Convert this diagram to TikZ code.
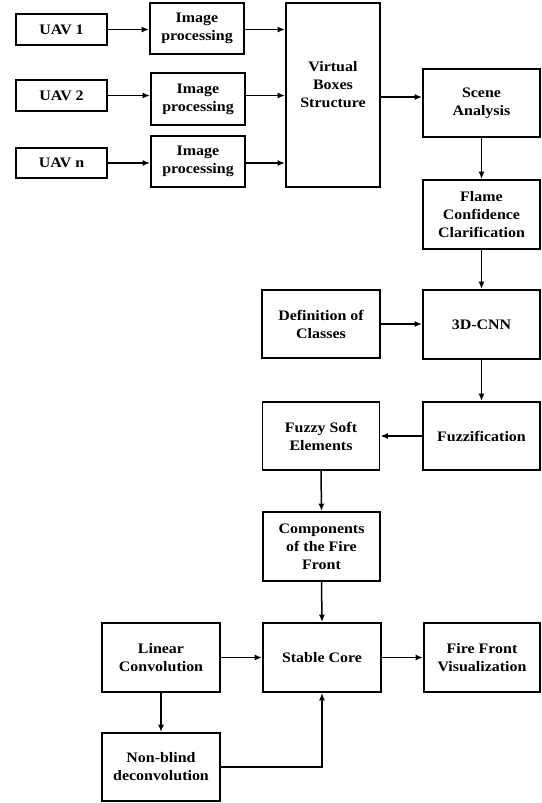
\documentclass[tikz,border=0pt]{standalone}
\usepackage{fontspec}
\newfontfamily\lbl[FakeStretch=1.1]{Liberation Serif}
\usetikzlibrary{arrows.meta}
\begin{document}
\begin{tikzpicture}[x=1pt,y=-1pt,
  box/.style={draw=black, line width=1.8pt, rectangle, inner sep=0pt, align=center,
    font=\lbl\bfseries\fontsize{14.5}{18}\selectfont},
  txt/.style={inner sep=0pt, align=center, font=\lbl\bfseries\fontsize{14.5}{18}\selectfont},
  arr/.style={line width=1.5pt, -{Latex[length=7.5pt,width=6pt]}}]
\useasboundingbox (0,0) rectangle (541,803);
\node[box, minimum width=91pt, minimum height=31pt] (uav1) at (61.5,29.5) {UAV 1};
\node[box, minimum width=91pt, minimum height=31pt] (uav2) at (61.5,95.5) {UAV 2};
\node[box, minimum width=91pt, minimum height=30pt] (uavn) at (61.5,163) {UAV n};
\node[box, minimum width=94pt, minimum height=51pt] (ip1) at (197,28.5) {Image\\processing};
\node[box, minimum width=94pt, minimum height=52pt] (ip2) at (198,99) {Image\\processing};
\node[box, minimum width=94pt, minimum height=51pt] (ip3) at (198,161.5) {Image\\processing};
\node[box, minimum width=94pt, minimum height=184pt] (vbs) at (333,95) {};
\node[txt] (vbstxt) at (333,85) {Virtual\\Boxes\\Structure};
\node[box, minimum width=117pt, minimum height=68pt] (scene) at (481.5,103) {Scene\\Analysis};
\node[box, minimum width=117pt, minimum height=69pt] (flame) at (481.5,214.5) {Flame\\Confidence\\Clarification};
\node[box, minimum width=118pt, minimum height=68pt] (def) at (321,324) {Definition of\\Classes};
\node[box, minimum width=117pt, minimum height=69pt] (cnn) at (481.5,324.5) {3D-CNN};
\node[box, minimum width=117pt, minimum height=68pt] (fuzz) at (481.5,436) {Fuzzification};
\node[box, minimum width=117pt, minimum height=68pt] (fse) at (321,436) {Fuzzy Soft\\Elements};
\node[box, minimum width=117pt, minimum height=69pt] (comp) at (321.5,546.5) {Components\\of the Fire\\Front};
\node[box, minimum width=118pt, minimum height=69pt] (lc) at (161,657.5) {Linear\\Convolution};
\node[box, minimum width=118pt, minimum height=69pt] (sc) at (322,657.5) {Stable Core};
\node[box, minimum width=116pt, minimum height=69pt] (ffv) at (482,657.5) {Fire Front\\Visualization};
\node[box, minimum width=118pt, minimum height=68pt] (nb) at (161,767) {Non-blind\\deconvolution};
\draw[arr] (uav1.east) -- (uav1.east -| ip1.west);
\draw[arr] (uav2.east) -- (uav2.east -| ip2.west);
\draw[arr] (uavn.east) -- (uavn.east -| ip3.west);
\draw[arr] (ip1.east |- uav1.east) -- (uav1.east -| vbs.west);
\draw[arr] (ip2.east |- uav2.east) -- (uav2.east -| vbs.west);
\draw[arr] (ip3.east |- uavn.east) -- (uavn.east -| vbs.west);
\coordinate (vs) at (380,97);
\draw[arr] (vs) -- (vs -| scene.west);
\draw[arr] (scene.south) -- (flame.north);
\draw[arr] (flame.south) -- (cnn.north);
\draw[arr] (def.east) -- (def.east -| cnn.west);
\draw[arr] (cnn.south) -- (fuzz.north);
\draw[arr] (fuzz.west) -- (fse.east |- fuzz.west);
\draw[arr] (fse.south) -- (comp.north);
\draw[arr] (comp.south) -- (sc.north);
\draw[arr] (lc.east) -- (sc.west);
\draw[arr] (sc.east) -- (ffv.west);
\draw[arr] (lc.south) -- (nb.north);
\draw[arr] (nb.east) -| (sc.south);
\end{tikzpicture}
\end{document}
